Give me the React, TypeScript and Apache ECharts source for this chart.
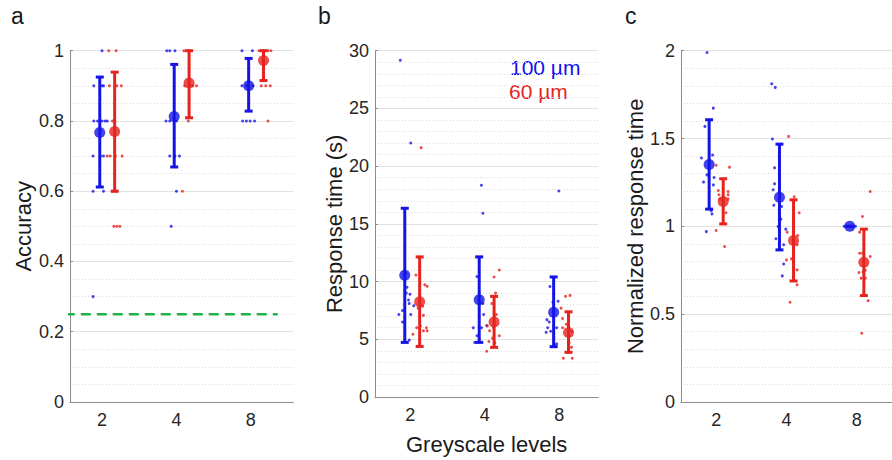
import React, { useEffect, useRef } from "react";
import * as echarts from "echarts";

// ---------- data ----------
const levelLabels = ["2", "4", "8"];

// Panel a: accuracy
const accBlueDots = [
  [0.93, 1.0], [0.82, 0.9], [0.93, 0.9], [0.95, 0.9], [0.82, 0.8], [0.87, 0.8], [0.93, 0.8], [0.97, 0.8], [1.0, 0.8],
  [0.81, 0.7], [0.91, 0.7], [0.95, 0.7], [0.81, 0.6], [0.95, 0.6], [0.81, 0.3],
  [1.8, 1.0], [1.84, 1.0], [1.91, 1.0], [1.79, 0.8], [1.84, 0.8], [1.93, 0.8], [1.84, 0.7], [1.91, 0.7], [1.97, 0.7],
  [1.93, 0.6], [1.86, 0.5],
  [2.81, 1.0], [2.95, 1.0], [2.81, 0.9], [2.87, 0.9], [2.96, 0.9], [2.82, 0.8], [2.87, 0.8], [2.92, 0.8], [2.98, 0.8],
];
const accRedDots = [
  [1.02, 1.0], [1.12, 1.0], [1.03, 0.9], [1.13, 0.9], [1.19, 0.9], [1.07, 0.8], [1.1, 0.8], [1.0, 0.7], [1.04, 0.7],
  [1.11, 0.7], [1.2, 0.7], [1.07, 0.6], [1.12, 0.6], [1.09, 0.5], [1.13, 0.5], [1.17, 0.5],
  [2.03, 1.0], [2.09, 1.0], [2.04, 0.9], [2.11, 0.9], [2.15, 0.9], [2.2, 0.9], [2.09, 0.8], [2.01, 0.6],
  [3.04, 1.0], [3.1, 1.0], [3.16, 1.0], [3.2, 1.0], [3.07, 0.9], [3.13, 0.9], [3.19, 0.9], [3.16, 0.8],
];
const accBlueMean = [0.767, 0.813, 0.9];
const accBlueHi = [0.925, 0.961, 0.978];
const accBlueLo = [0.612, 0.669, 0.828];
const accRedMean = [0.77, 0.908, 0.972];
const accRedHi = [0.939, 1.0, 1.0];
const accRedLo = [0.6, 0.809, 0.915];
const chanceLevel = 0.25;
const chanceSpan = [0.43, 3.29];

// Panel b: response time (s)
const rtBlueDots = [
  [0.84, 29.17], [0.98, 22.0], [0.82, 7.15], [0.87, 7.5], [0.87, 6.5], [0.92, 9.0], [0.93, 9.5], [0.95, 8.4],
  [0.97, 8.9], [0.96, 8.1], [0.98, 7.15], [1.02, 7.9], [0.96, 4.93], [0.91, 10.7],
  [1.93, 18.35], [1.95, 15.92], [1.82, 6.0], [1.93, 6.0], [1.87, 10.43], [1.9, 8.1], [1.95, 8.1], [1.96, 7.15],
  [2.0, 6.2], [1.87, 5.3], [1.9, 5.0], [1.84, 4.73],
  [2.97, 17.84], [2.85, 9.57], [2.96, 8.29], [2.89, 8.2], [2.81, 6.7], [2.84, 6.5], [2.82, 6.0], [2.8, 5.6],
  [2.86, 5.7], [2.94, 6.0], [2.91, 4.5], [2.94, 4.6],
];
const rtRedDots = [
  [1.12, 21.6], [1.05, 10.57], [1.17, 9.72], [1.2, 9.6], [1.14, 7.86], [1.15, 7.07], [1.11, 6.15], [1.06, 6.0],
  [1.19, 6.0], [1.15, 5.73], [1.2, 5.73], [1.01, 5.44], [1.08, 7.7],
  [2.17, 11.0], [2.1, 10.4], [2.12, 9.0], [2.07, 8.1], [2.13, 7.15], [2.01, 6.15], [2.09, 6.0], [2.04, 5.73],
  [2.17, 5.3], [2.03, 4.81], [2.0, 3.96], [2.11, 4.7], [2.08, 5.1],
  [3.06, 8.72], [3.12, 8.8], [3.0, 7.7], [3.02, 6.8], [3.02, 6.0], [3.07, 6.3], [3.14, 5.7], [3.1, 5.0],
  [3.11, 4.7], [3.14, 4.3], [3.09, 3.87], [3.03, 3.36], [3.15, 3.36], [3.11, 5.3],
];
const rtBlueMean = [10.54, 8.43, 7.35];
const rtBlueHi = [16.35, 12.14, 10.4];
const rtBlueLo = [4.73, 4.73, 4.36];
const rtRedMean = [8.26, 6.5, 5.58];
const rtRedHi = [12.14, 8.72, 7.38];
const rtRedLo = [4.38, 4.3, 3.87];

// Panel c: normalized response time
const nrtBlueDots = [
  [0.87, 1.99], [0.96, 1.673], [0.84, 1.569], [0.79, 1.389], [0.95, 1.406], [0.87, 1.293], [0.82, 1.252],
  [0.97, 1.278], [0.96, 1.236], [0.94, 1.071], [0.86, 0.97], [0.93, 1.09],
  [1.79, 1.812], [1.84, 1.791], [1.8, 1.497], [1.83, 1.333], [1.83, 1.242], [1.81, 1.208], [1.82, 1.12],
  [1.93, 1.113], [1.92, 1.041], [1.88, 0.999], [1.99, 0.984], [1.85, 0.929], [1.96, 0.895], [1.96, 0.786], [1.94, 0.718],
  [2.82, 1.0], [2.86, 1.0], [2.9, 1.0], [2.94, 1.0], [2.98, 1.0],
];
const nrtRedDots = [
  [1.0, 1.348], [1.19, 1.337], [1.03, 1.204], [1.17, 1.198], [1.04, 1.18], [1.17, 1.18], [1.05, 1.155],
  [1.17, 1.155], [1.14, 1.077], [1.0, 0.976], [1.12, 0.885],
  [2.03, 1.512], [2.11, 1.168], [2.18, 1.077], [2.01, 0.967], [2.16, 0.948], [2.15, 0.895], [2.07, 0.815],
  [2.0, 0.809], [2.15, 0.752], [2.15, 0.667], [2.05, 0.568],
  [3.19, 1.198], [3.08, 1.056], [3.04, 0.967], [3.04, 0.847], [3.08, 0.847], [3.19, 0.828], [3.03, 0.737],
  [3.09, 0.74], [3.12, 0.75], [3.06, 0.705], [3.12, 0.705], [3.16, 0.577], [3.07, 0.391],
];
const nrtBlueMean = [1.352, 1.166, 1.0];
const nrtBlueHi = [1.607, 1.468, 1.0];
const nrtBlueLo = [1.098, 0.866, 1.0];
const nrtRedMean = [1.141, 0.919, 0.796];
const nrtRedHi = [1.271, 1.151, 0.984];
const nrtRedLo = [1.014, 0.689, 0.606];

// ---------- styling ----------
const FONT = "'Liberation Sans', Arial, Helvetica, sans-serif";
const BLUE = "#1414e6";
const RED = "#e6231e";
const GREEN = "#1eb44a";
const BLUE_OFF = -0.1;
const RED_OFF = 0.1;

function errorBarSeries(idx: number, color: string, off: number, lo: number[], hi: number[]) {
  return {
    type: "custom",
    xAxisIndex: idx,
    yAxisIndex: idx,
    z: 3,
    encode: { x: 0, y: [1, 2] },
    data: lo.map((l, i) => [i + 1 + off, l, hi[i]]),
    renderItem: (_p: any, api: any) => {
      const x = api.value(0);
      const top = api.coord([x, api.value(2)]);
      const bot = api.coord([x, api.value(1)]);
      const w = 4;
      const st = { stroke: color, lineWidth: 3 };
      return {
        type: "group",
        children: [
          { type: "line", shape: { x1: top[0], y1: top[1], x2: bot[0], y2: bot[1] }, style: st },
          { type: "line", shape: { x1: top[0] - w, y1: top[1], x2: top[0] + w, y2: top[1] }, style: st },
          { type: "line", shape: { x1: bot[0] - w, y1: bot[1], x2: bot[0] + w, y2: bot[1] }, style: st },
        ],
      };
    },
  };
}

function dotSeries(idx: number, color: string, dots: number[][]) {
  return {
    type: "scatter",
    xAxisIndex: idx,
    yAxisIndex: idx,
    symbolSize: 3,
    z: 2,
    itemStyle: { color },
    data: dots,
  };
}

function meanSeries(idx: number, color: string, off: number, mean: number[]) {
  return {
    type: "scatter",
    xAxisIndex: idx,
    yAxisIndex: idx,
    symbolSize: 11,
    z: 4,
    itemStyle: { color },
    data: mean.map((m, i) => [i + 1 + off, m]),
  };
}

const gridLefts = [70, 375, 681];
const labelPos = [
  [0.93, 1.93, 2.93],
  [0.975, 1.975, 2.975],
  [1, 2, 3],
];
const yCfg = [
  { max: 1, interval: 0.2, minor: 4, name: "Accuracy", gap: 36 },
  { max: 30, interval: 5, minor: 5, name: "Response time (s)", gap: 30 },
  { max: 2, interval: 0.5, minor: 5, name: "Normalized response time", gap: 33 },
];

export default function App() {
  const ref = useRef<HTMLDivElement>(null);
  useEffect(() => {
    if (!ref.current) return;
    const chart = echarts.init(ref.current, undefined, { renderer: "svg" });
    const grids = gridLefts.map((l) => ({ left: l, top: 50.7, width: 223.3, height: 351.3 }));
    const xAxes = gridLefts.map((_, i) => ({
      type: "value",
      gridIndex: i,
      min: 0.5,
      max: 3.5,
      axisLine: { show: true, onZero: false, lineStyle: { color: "#8c8c8c", width: 1 } },
      axisTick: { show: false },
      splitLine: { show: false },
      axisLabel: {
        customValues: labelPos[i],
        formatter: (v: number) => levelLabels[Math.round(v) - 1] ?? "",
        fontFamily: FONT,
        fontSize: 18,
        color: "#262626",
        margin: 9,
      },
      name: i === 1 ? "Greyscale levels" : "",
      nameLocation: "middle",
      nameGap: 36,
      nameTextStyle: { fontFamily: FONT, fontSize: 22, color: "#1a1a1a" },
    }));
    const yAxes = yCfg.map((c, i) => ({
      type: "value",
      gridIndex: i,
      min: 0,
      max: c.max,
      interval: c.interval,
      axisLine: { show: true, lineStyle: { color: "#8c8c8c", width: 1 } },
      axisTick: { show: true, inside: true, length: 3, lineStyle: { color: "#8c8c8c" } },
      minorTick: { show: false, splitNumber: c.minor },
      splitLine: { show: true, lineStyle: { color: "#e2e2e2", width: 1 } },
      minorSplitLine: { show: true, lineStyle: { color: "#dcdcdc", width: 1, type: [1, 2] } },
      axisLabel: { fontFamily: FONT, fontSize: 18, color: "#262626", margin: 6 },
      name: c.name,
      nameLocation: "middle",
      nameGap: c.gap,
      nameTextStyle: { fontFamily: FONT, fontSize: 22, color: "#1a1a1a" },
    }));

    const panels = [
      [accBlueDots, accRedDots, accBlueMean, accBlueLo, accBlueHi, accRedMean, accRedLo, accRedHi],
      [rtBlueDots, rtRedDots, rtBlueMean, rtBlueLo, rtBlueHi, rtRedMean, rtRedLo, rtRedHi],
      [nrtBlueDots, nrtRedDots, nrtBlueMean, nrtBlueLo, nrtBlueHi, nrtRedMean, nrtRedLo, nrtRedHi],
    ] as any[];

    const series: any[] = [];
    panels.forEach((p, i) => {
      const [bd, rd, bm, bl, bh, rm, rl, rh] = p;
      series.push(dotSeries(i, BLUE, bd));
      series.push(dotSeries(i, RED, rd));
      series.push(errorBarSeries(i, BLUE, BLUE_OFF, bl, bh));
      series.push(errorBarSeries(i, RED, RED_OFF, rl, rh));
      series.push(meanSeries(i, BLUE, BLUE_OFF, bm));
      series.push(meanSeries(i, RED, RED_OFF, rm));
    });
    series.push({
      type: "line",
      xAxisIndex: 0,
      yAxisIndex: 0,
      clip: false,
      symbol: "none",
      z: 1,
      lineStyle: { color: GREEN, width: 2.5, type: [10, 6] },
      data: chanceSpan.map((x) => [x, chanceLevel]),
    });

    const letter = (t: string, x: number) => ({
      type: "text",
      left: x,
      top: 4,
      style: { text: t, fontFamily: FONT, fontSize: 23, fill: "#1a1a1a" },
    });

    chart.setOption({
      animation: false,
      backgroundColor: "#ffffff",
      grid: grids,
      xAxis: xAxes,
      yAxis: yAxes,
      series,
      graphic: [
        letter("a", 11),
        letter("b", 318),
        letter("c", 625),
        { type: "text", left: 510, top: 57, style: { text: "100 µm", fontFamily: FONT, fontSize: 21, fill: "#1010ee" } },
        { type: "text", left: 509, top: 81, style: { text: "60 µm", fontFamily: FONT, fontSize: 21, fill: "#e6231e" } },
      ],
    });
    return () => chart.dispose();
  }, []);
  return (
    <div
      ref={ref}
      style={{ position: "absolute", left: 0, top: 0, width: 892, height: 460, background: "#fff" }}
    />
  );
}
